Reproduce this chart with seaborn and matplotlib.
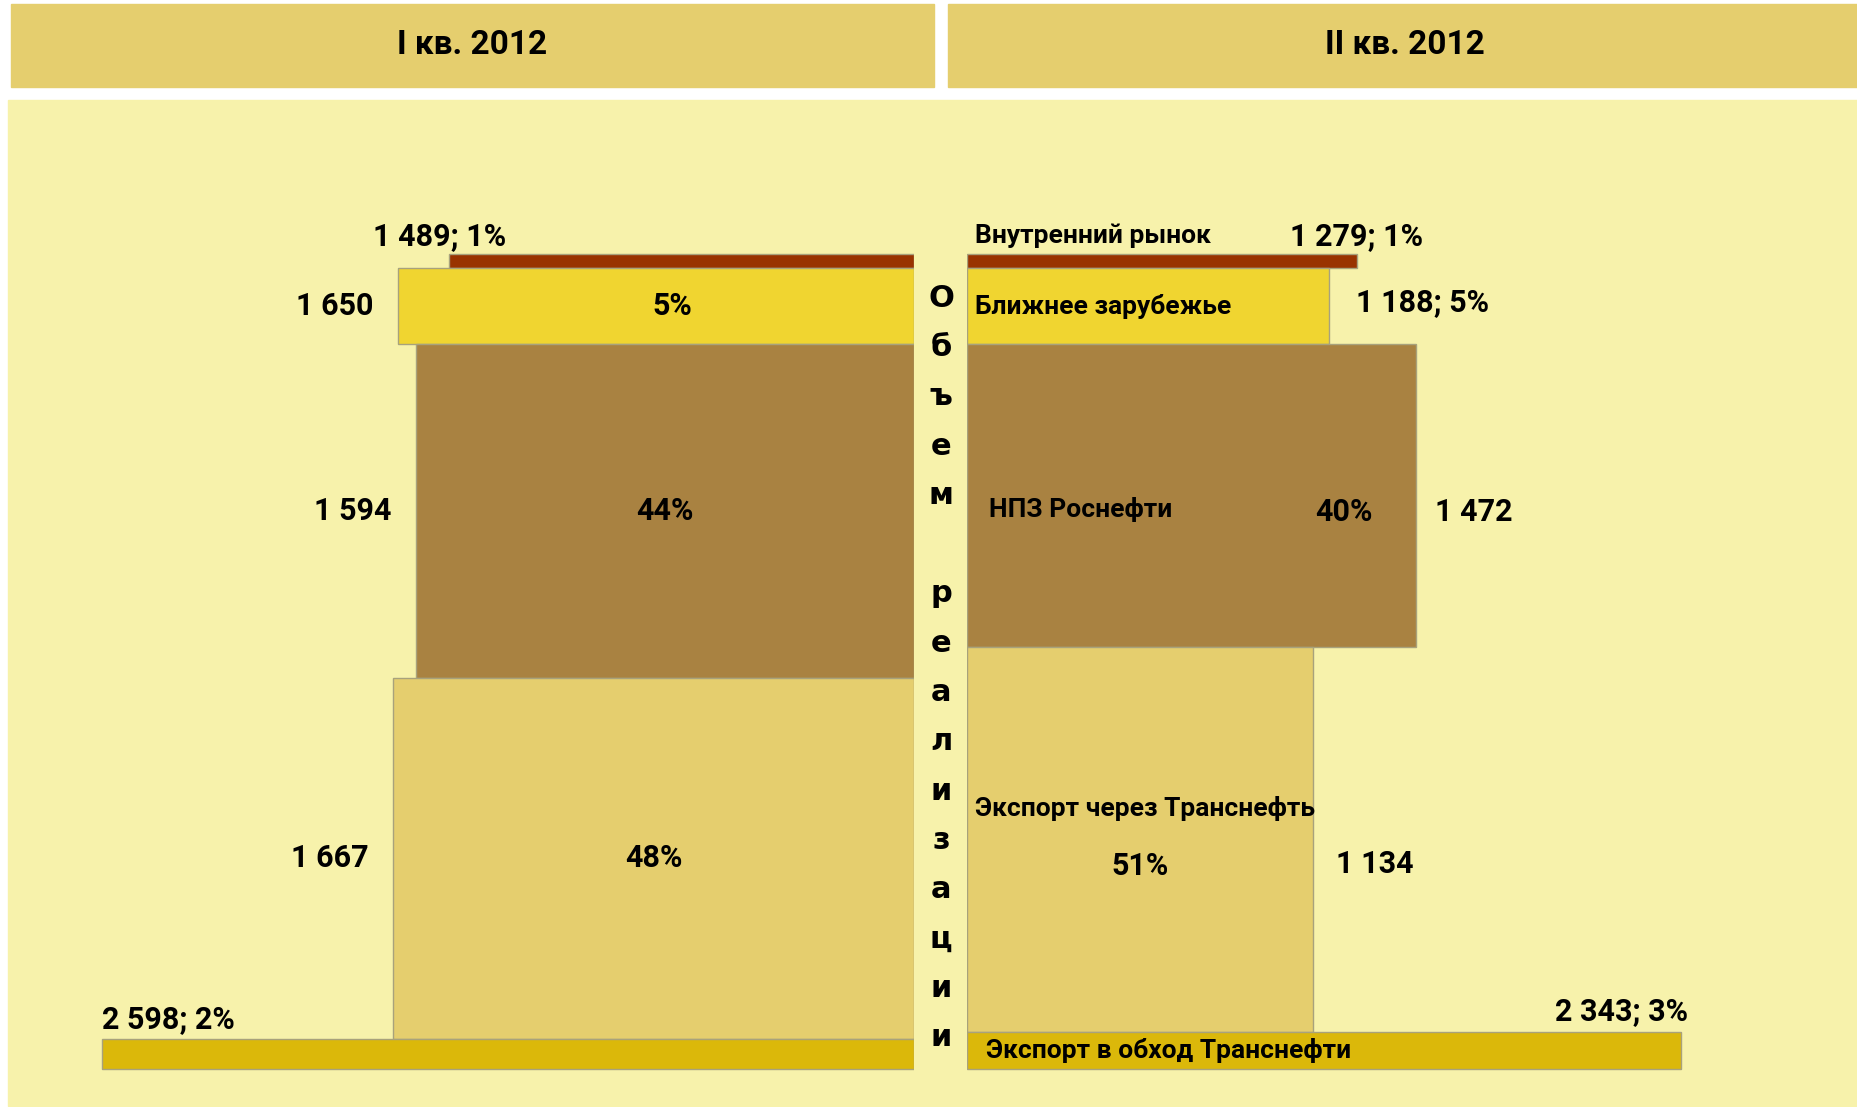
# -*- coding: utf-8 -*-
import numpy as np
import matplotlib.pyplot as plt
from matplotlib.patches import Rectangle
import seaborn as sns

# %% Datos
categorias = ['Внутренний рынок', 'Ближнее зарубежье', 'НПЗ Роснефти',
              'Экспорт через Транснефть', 'Экспорт в обход Транснефти']
trimestres = ['I кв. 2012', 'II кв. 2012']
titulo_vertical = 'Объем реализации'

# precio (ancho del bloque) y participacion (%)
q1_precio = [1489, 1650, 1594, 1667, 2598]
q1_pct = [1, 5, 44, 48, 2]
q2_precio = [1279, 1188, 1472, 1134, 2343]
q2_pct = [1, 5, 40, 51, 3]

# espesor de cada bloque tal como se dibuja (% de la altura total)
q1_alto = [1.8, 9.3, 40.9, 44.3, 3.7]
q2_alto = [1.8, 9.3, 37.1, 47.2, 4.6]

colores = ['#993300', '#F0D530', '#A98241', '#E5CE6E', '#DBB80A']
fondo = '#F7F2AB'
cabecera = '#E5CE6E'

# %% Estilo
sns.set_style('white')
plt.rcParams['font.family'] = ['Roboto', 'DejaVu Sans']
plt.rcParams['font.weight'] = 'bold'
plt.rcParams['text.color'] = 'black'

W, H = 1858, 1107
fig = plt.figure(figsize=(W / 100, H / 100), dpi=100)
fig.patch.set_facecolor('white')


def caja(x0, y0, x1, y1):
    # pixeles (desde arriba a la izquierda) -> fraccion de figura
    return [x0 / W, 1 - y1 / H, (x1 - x0) / W, (y1 - y0) / H]


def rect_fig(x0, y0, x1, y1, color):
    r = Rectangle((x0 / W, 1 - y1 / H), (x1 - x0) / W, (y1 - y0) / H,
                  transform=fig.transFigure, color=color, zorder=-5)
    fig.patches.append(r)


def fmt(v):
    return f'{v:,}'.replace(',', ' ')


# fondo y cabeceras
rect_fig(8, 100, 1858, 1106, fondo)
rect_fig(11, 4, 934, 87, cabecera)
rect_fig(948, 4, 1858, 87, cabecera)
fig.text(472 / W, 1 - 45 / H, trimestres[0], ha='center', va='center', fontsize=24)
fig.text(1405 / W, 1 - 45 / H, trimestres[1], ha='center', va='center', fontsize=24)

# texto vertical central, una letra por linea
for i, letra in enumerate(titulo_vertical):
    fig.text(941 / W, 1 - (306.7 + i * 49.3) / H, letra, ha='center', va='baseline',
             fontsize=22, family='DejaVu Sans', fontweight='bold')

# %% Ejes
ax_l = fig.add_axes(caja(8, 100, 914.5, 1106))
ax_r = fig.add_axes(caja(967.3, 100, 1858, 1106))
ax_l.set_xlim(2897, 0)
ax_r.set_xlim(0, 2925)
for ax in (ax_l, ax_r):
    ax.set_ylim(104.5, -18.86)
    ax.axis('off')


def bloques(ax, precio, alto):
    alto = np.array(alto)
    arriba = np.concatenate([[0], np.cumsum(alto)[:-1]])
    centros = arriba + alto / 2
    ax.barh(centros, precio, height=alto, color=colores,
            edgecolor='#A8A27C', linewidth=1)
    return centros


c1 = bloques(ax_l, q1_precio, q1_alto)
c2 = bloques(ax_r, q2_precio, q2_alto)

fs_num = 22
fs_cat = 19

# %% Etiquetas I trimestre
ax_l.text(q1_precio[0] + 30, -2.2, f'{fmt(q1_precio[0])}; {q1_pct[0]}%',
          ha='center', va='center', fontsize=fs_num)
for i in (1, 2, 3):
    ax_l.text(q1_precio[i] + 78, c1[i], fmt(q1_precio[i]),
              ha='right', va='center', fontsize=fs_num)
    xp = q1_precio[i] * 0.47 if i == 1 else q1_precio[i] / 2
    ax_l.text(xp, c1[i], f'{q1_pct[i]}%', ha='center', va='center', fontsize=fs_num)
ax_l.text(q1_precio[4], 93.8, f'{fmt(q1_precio[4])}; {q1_pct[4]}%',
          ha='left', va='center', fontsize=fs_num)

# %% Etiquetas II trimestre
ax_r.text(25, -2.2, categorias[0], ha='left', va='center', fontsize=fs_cat)
ax_r.text(q2_precio[0], -2.2, f'{fmt(q2_precio[0])}; {q2_pct[0]}%',
          ha='center', va='center', fontsize=fs_num)

ax_r.text(25, c2[1], categorias[1], ha='left', va='center', fontsize=fs_cat)
ax_r.text(q2_precio[1] + 88, c2[1] - 0.5, f'{fmt(q2_precio[1])}; {q2_pct[1]}%',
          ha='left', va='center', fontsize=fs_num)

ax_r.text(71, 31.4, categorias[2], ha='left', va='center', fontsize=fs_cat)
ax_r.text(1238, 31.7, f'{q2_pct[2]}%', ha='center', va='center', fontsize=fs_num)
ax_r.text(q2_precio[2] + 65, 31.6, fmt(q2_precio[2]), ha='left', va='center', fontsize=fs_num)

ax_r.text(25, 68.0, categorias[3], ha='left', va='center', fontsize=fs_cat)
ax_r.text(q2_precio[3] / 2, 75.1, f'{q2_pct[3]}%', ha='center', va='center', fontsize=fs_num)
ax_r.text(q2_precio[3] + 78, 74.8, fmt(q2_precio[3]), ha='left', va='center', fontsize=fs_num)

ax_r.text(61, c2[4], categorias[4], ha='left', va='center', fontsize=fs_cat)
ax_r.text(q2_precio[4] + 25, 92.9, f'{fmt(q2_precio[4])}; {q2_pct[4]}%',
          ha='right', va='center', fontsize=fs_num)

fig.savefig('out.png', dpi=100)
